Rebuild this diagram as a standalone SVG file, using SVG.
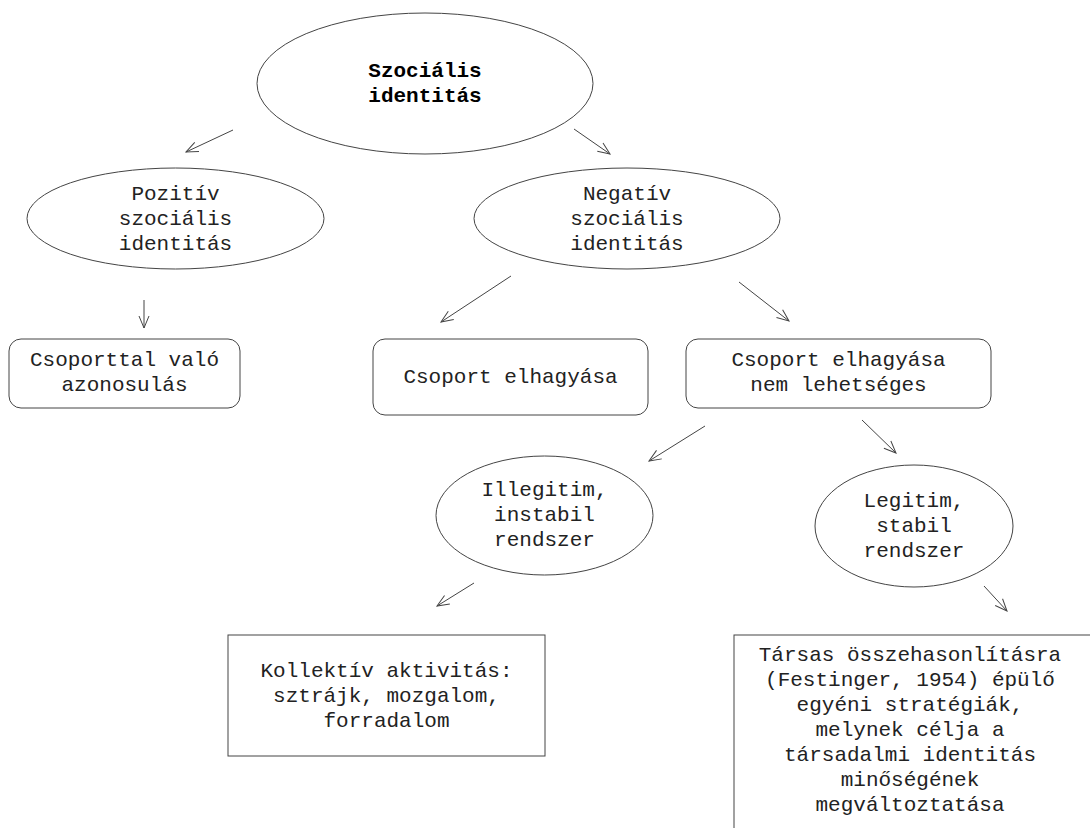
<svg xmlns="http://www.w3.org/2000/svg" width="1090" height="828" viewBox="0 0 1090 828">
<defs>
<style>
.shape{fill:#fff;stroke:#444;stroke-width:1}
.t{font-family:"Liberation Mono","Courier New",monospace;font-size:21px;fill:#222;text-anchor:middle}
.b{font-weight:bold;fill:#000}
.c{stroke:#444;stroke-width:1;fill:none;marker-end:url(#ah)}
</style>
<marker id="ah" viewBox="0 0 14 12" refX="13" refY="6" markerWidth="14" markerHeight="12" markerUnits="userSpaceOnUse" orient="auto">
<path d="M1,1 L13,6 L1,11" fill="none" stroke="#444" stroke-width="1"/>
</marker>
</defs>
<rect width="1090" height="828" fill="#fff"/>
<g id="connectors">
<line class="c" x1="233" y1="130" x2="186" y2="152"/>
<line class="c" x1="574" y1="129" x2="610" y2="154"/>
<line class="c" x1="144" y1="300" x2="144" y2="328"/>
<line class="c" x1="511" y1="276" x2="441" y2="322"/>
<line class="c" x1="739" y1="282" x2="789" y2="321"/>
<line class="c" x1="705" y1="426" x2="649" y2="461"/>
<line class="c" x1="862" y1="420" x2="896" y2="453"/>
<line class="c" x1="474" y1="583" x2="437" y2="606"/>
<line class="c" x1="984" y1="586" x2="1007" y2="611"/>
</g>
<g id="n-root">
<ellipse class="shape" cx="425" cy="83.5" rx="168" ry="70.5"/>
<text class="t b" x="425" y="77">Szociális</text>
<text class="t b" x="425" y="102">identitás</text>
</g>
<g id="n-pozitiv">
<ellipse class="shape" cx="175.5" cy="218.5" rx="148.5" ry="50.5"/>
<text class="t" x="175.5" y="200">Pozitív</text>
<text class="t" x="175.5" y="225">szociális</text>
<text class="t" x="175.5" y="250">identitás</text>
</g>
<g id="n-negativ">
<ellipse class="shape" cx="627" cy="218.5" rx="153" ry="50.5"/>
<text class="t" x="627" y="200">Negatív</text>
<text class="t" x="627" y="225">szociális</text>
<text class="t" x="627" y="250">identitás</text>
</g>
<g id="n-azonosulas">
<rect class="shape" x="9" y="339" width="231" height="69" rx="12"/>
<text class="t" x="124.5" y="366">Csoporttal való</text>
<text class="t" x="124.5" y="391">azonosulás</text>
</g>
<g id="n-elhagyas">
<rect class="shape" x="373" y="339" width="275" height="76" rx="12"/>
<text class="t" x="510.5" y="383">Csoport elhagyása</text>
</g>
<g id="n-nemlehet">
<rect class="shape" x="686" y="339" width="305" height="69" rx="12"/>
<text class="t" x="838.5" y="366">Csoport elhagyása</text>
<text class="t" x="838.5" y="391">nem lehetséges</text>
</g>
<g id="n-illegitim">
<ellipse class="shape" cx="544.5" cy="515.5" rx="108.5" ry="59.5"/>
<text class="t" x="544.5" y="496">Illegitim,</text>
<text class="t" x="544.5" y="521">instabil</text>
<text class="t" x="544.5" y="546">rendszer</text>
</g>
<g id="n-legitim">
<ellipse class="shape" cx="914" cy="526" rx="99" ry="61"/>
<text class="t" x="914" y="507">Legitim,</text>
<text class="t" x="914" y="532">stabil</text>
<text class="t" x="914" y="557">rendszer</text>
</g>
<g id="n-kollektiv">
<rect class="shape" x="228" y="635" width="317" height="121"/>
<text class="t" x="386.5" y="677">Kollektív aktivitás:</text>
<text class="t" x="386.5" y="702">sztrájk, mozgalom,</text>
<text class="t" x="386.5" y="727">forradalom</text>
</g>
<g id="n-tarsas">
<rect class="shape" x="734" y="635" width="400" height="250"/>
<text class="t" x="910" y="661">Társas összehasonlításra</text>
<text class="t" x="910" y="686">(Festinger, 1954) épülő</text>
<text class="t" x="910" y="711">egyéni stratégiák,</text>
<text class="t" x="910" y="736">melynek célja a</text>
<text class="t" x="910" y="761">társadalmi identitás</text>
<text class="t" x="910" y="786">minőségének</text>
<text class="t" x="910" y="811">megváltoztatása</text>
</g>
</svg>
